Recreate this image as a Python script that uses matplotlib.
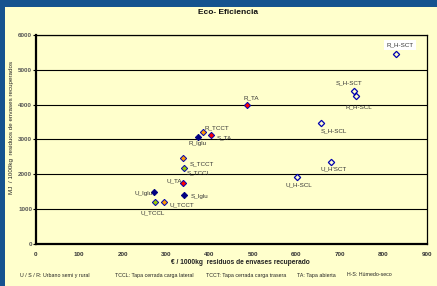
import matplotlib.pyplot as plt
from matplotlib.patches import Rectangle

plt.rcParams['font.family'] = ['Liberation Sans', 'DejaVu Sans']

# cost (EUR/1000kg) and energy (MJ/1000kg) per collection system
iglu_names = ['R_Iglu', 'S_Iglu', 'U_Iglu']
iglu_x = [374, 341, 272]
iglu_y = [3080, 1415, 1485]

tcct_names = ['R_TCCT', 'S_TCCT', 'U_TCCT']
tcct_x = [386, 340, 296]
tcct_y = [3215, 2470, 1215]

tccl_names = ['S_TCCL', 'U_TCCL']
tccl_x = [341, 274]
tccl_y = [2180, 1195]

ta_names = ['R_TA', 'S_TA', 'U_TA']
ta_x = [486, 403, 339]
ta_y = [3980, 3140, 1740]

hs_names = ['R_H-SCT', 'S_H-SCT', 'R_H-SCL', 'S_H-SCL', "U_H'SCT", 'U_H-SCL']
hs_x = [829, 732, 737, 656, 679, 601]
hs_y = [5445, 4395, 4250, 3485, 2365, 1925]

# label offsets in points (dx, dy)
offsets = {
    'R_Iglu': (-0.6, -4.8), 'S_Iglu': (11.2, -1), 'U_Iglu': (-7.5, -0.7),
    'R_TCCT': (9.9, 2.7), 'S_TCCT': (13.4, -4.3), 'U_TCCT': (12.7, -2.2),
    'S_TCCL': (10.8, -3.8), 'U_TCCL': (-1.4, -7.2),
    'R_TA': (3, 5.5), 'S_TA': (9.9, -2.6), 'U_TA': (-6.4, 1.9),
    'R_H-SCT': (3, 6.7), 'S_H-SCT': (-3.5, 5.5), 'R_H-SCL': (2.4, -8),
    'S_H-SCL': (9.6, -5.8), "U_H'SCT": (2.4, -5), 'U_H-SCL': (1.4, -6),
}

yticks = [0, 1000, 2000, 3000, 4000, 5000, 6000]
xticks = [0, 100, 200, 300, 400, 500, 600, 700, 800, 900]

bg = '#ffffcc'
blue = '#15538f'
edge = '#0000b0'

fig = plt.figure(figsize=(4.37, 2.86), dpi=100)
fig.patch.set_facecolor(bg)
fig.patches.append(Rectangle((0, 0), 5 / 437, 1, transform=fig.transFigure,
                             facecolor=blue, edgecolor='none', zorder=0))
fig.patches.append(Rectangle((0, 1 - 7 / 286), 1, 7 / 286, transform=fig.transFigure,
                             facecolor=blue, edgecolor='none', zorder=0))

ax = fig.add_axes([0.0817, 0.1469, 0.8947, 0.7308])
ax.set_facecolor(bg)

for yv in yticks[1:]:
    ax.axhline(yv, color='black', lw=0.8, zorder=1)

ms = 3.2
ax.plot(iglu_x, iglu_y, 'D', ms=ms, mfc='#000080', mec='#000080', mew=0.7, zorder=3)
ax.plot(tcct_x, tcct_y, 'D', ms=ms, mfc='#ff9900', mec=edge, mew=0.7, zorder=3)
ax.plot(tccl_x, tccl_y, 'D', ms=ms, mfc='#99cc00', mec=edge, mew=0.7, zorder=3)
ax.plot(ta_x, ta_y, 'D', ms=ms, mfc='#ff0000', mec=edge, mew=0.7, zorder=3)
ax.plot(hs_x, hs_y, 'D', ms=ms, mfc=bg, mec=edge, mew=0.9, zorder=3)

all_names = iglu_names + tcct_names + tccl_names + ta_names + hs_names
all_x = iglu_x + tcct_x + tccl_x + ta_x + hs_x
all_y = iglu_y + tcct_y + tccl_y + ta_y + hs_y
for n, xv, yv in zip(all_names, all_x, all_y):
    box = None
    if n == 'R_H-SCT':
        box = dict(facecolor='white', edgecolor='none', pad=1.5)
    ax.annotate(n, (xv, yv), xytext=offsets[n], textcoords='offset points',
                ha='center', va='center', fontsize=4.5, color='#333333',
                bbox=box, zorder=4)

ax.set_xlim(0, 900)
ax.set_ylim(0, 6000)
ax.set_xticks(xticks)
ax.set_yticks(yticks)
ax.tick_params(axis='x', length=0, pad=6, labelsize=4.5, labelcolor='#333333')
ax.tick_params(axis='y', length=2, width=0.8, pad=0.5, labelsize=4.5, labelcolor='#555555')
for lbl in ax.get_xticklabels() + ax.get_yticklabels():
    lbl.set_fontweight('bold')

for side in ['left', 'bottom']:
    ax.spines[side].set_linewidth(1.6)
for side in ['top', 'right']:
    ax.spines[side].set_linewidth(0.9)

fig.text(228 / 437, 1 - 13 / 286, 'Eco- Eficiencia', ha='center', va='center',
         fontsize=6, fontweight='bold', color='#111111')
fig.text(240 / 437, 1 - 263 / 286, '€ / 1000kg  residuos de envases recuperado',
         ha='center', va='center', fontsize=4.8, fontweight='bold', color='#222222')
fig.text(12 / 437, 1 - 127 / 286, 'MJ  / 1000kg  residuos de envases recuperados',
         ha='center', va='center', rotation=90, fontsize=4.5, color='#222222')

foot_y = 1 - 275 / 286
fig.text(20 / 437, foot_y, 'U / S / R: Urbano semi y rural', va='center', fontsize=3.8, color='#222222')
fig.text(115 / 437, foot_y, 'TCCL: Tapa cerrada carga lateral', va='center', fontsize=3.8, color='#222222')
fig.text(206 / 437, foot_y, 'TCCT: Tapa cerrada carga trasera', va='center', fontsize=3.8, color='#222222')
fig.text(297 / 437, foot_y, 'TA: Tapa abierta', va='center', fontsize=3.8, color='#222222')
fig.text(347 / 437, foot_y, 'H-S: Húmedo-seco', va='center', fontsize=3.8, color='#222222')

fig.savefig('out.png', dpi=100, facecolor=fig.get_facecolor())
